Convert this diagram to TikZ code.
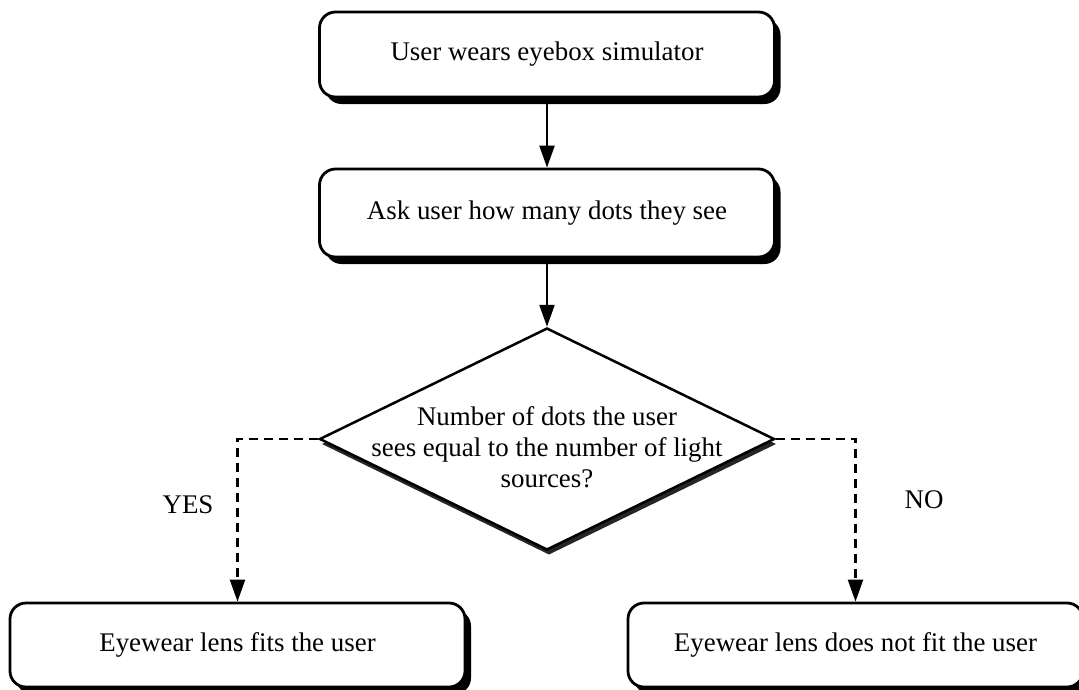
\documentclass[tikz,border=0pt]{standalone}
\usepackage{fontspec}
\setmainfont{Liberation Serif}
\usetikzlibrary{arrows.meta,shapes.geometric,shadows}
\tikzset{
  box/.style={draw, line width=2.8pt, rounded corners=16pt, fill=white,
    minimum width=455pt, inner sep=0pt,
    drop shadow={shadow xshift=6pt, shadow yshift=-7pt, fill=black, opacity=1}},
  decision/.style={draw, diamond, line width=2.5pt, fill=white, inner sep=0pt,
    minimum width=455pt, minimum height=222pt,
    drop shadow={shadow xshift=2pt, shadow yshift=-5pt, fill=black!85, opacity=1}},
  flow/.style={line width=2.3pt, -{Triangle[length=22pt,width=15pt]}},
  dflow/.style={flow, dash pattern=on 9pt off 6pt},
  lbl/.style={inner sep=0pt}
}
\begin{document}
\begin{tikzpicture}[x=1pt,y=-1pt]
\fontsize{26.9pt}{31pt}\selectfont
\useasboundingbox (0,0) rectangle (1079,689);
\clip (0,0) rectangle (1079,689);
\node[box, minimum height=85pt] (b1) at (547,54.5) {User wears eyebox simulator};
\node[box, minimum height=88pt] (b2) at (547,213) {Ask user how many dots they see};
\node[decision] (d) at (547,439) {};
\node[lbl, align=center] (dt) at (547,447) {Number of dots the user\\sees equal to the number of light\\sources?};
\node[box, minimum height=84pt] (yes) at (237.5,645) {Eyewear lens fits the user};
\node[box, minimum height=84pt] (no) at (855.5,645) {Eyewear lens does not fit the user};
\node[lbl] (ly) at (188,505) {YES};
\node[lbl] (ln) at (924,500) {NO};
\draw[flow] (b1.south) -- (b2.north);
\draw[flow] (b2.south) -- (d.north);
\draw[dflow] (d.west) -| (yes.north);
\draw[dflow] (d.east) -| (no.north);
\end{tikzpicture}
\end{document}
